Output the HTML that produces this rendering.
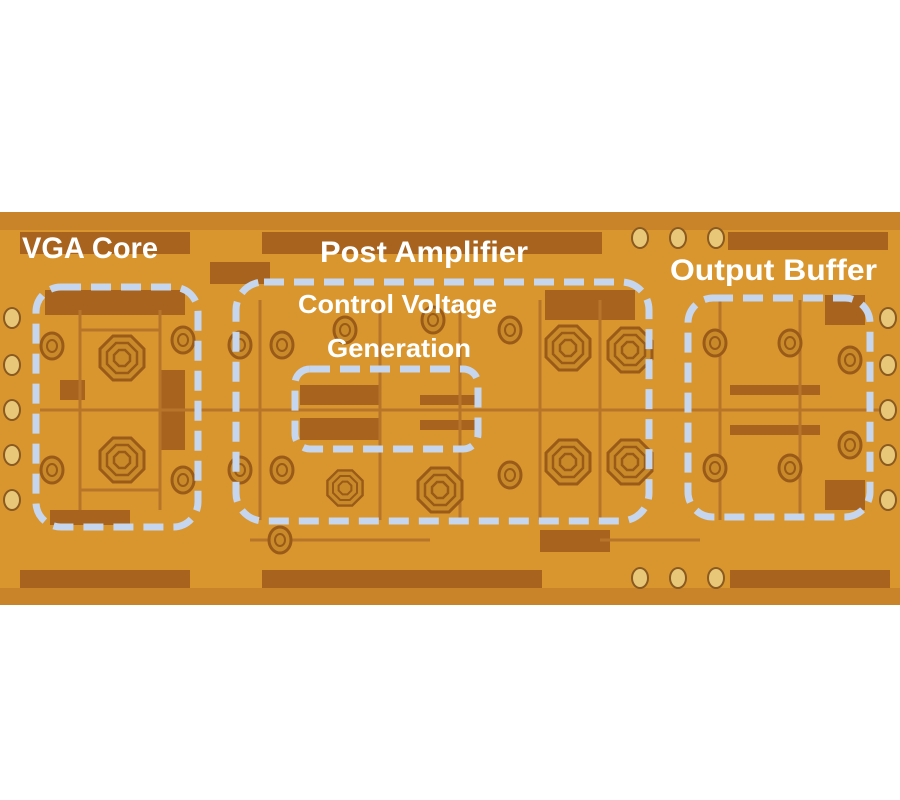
<!DOCTYPE html>
<html><head><style>body{margin:0;background:#fff}svg{display:block}</style></head>
<body>
<svg width="900" height="800" viewBox="0 0 900 800" xmlns="http://www.w3.org/2000/svg">
<defs>
<g id="ind">
<polygon points="-9,-22 9,-22 22,-9 22,9 9,22 -9,22 -22,9 -22,-9" fill="#c98a2a" stroke="#9a5a18" stroke-width="3"/>
<polygon points="-6,-15 6,-15 15,-6 15,6 6,15 -6,15 -15,6 -15,-6" fill="none" stroke="#9a5a18" stroke-width="2.5"/>
<polygon points="-3,-8 3,-8 8,-3 8,3 3,8 -3,8 -8,3 -8,-3" fill="none" stroke="#9a5a18" stroke-width="2.5"/>
</g>
<g id="sm">
<ellipse cx="0" cy="0" rx="11" ry="13" fill="#c98a2a" stroke="#9a5a18" stroke-width="3"/>
<ellipse cx="0" cy="0" rx="5" ry="6" fill="none" stroke="#9a5a18" stroke-width="2"/>
</g>
<g id="pad"><ellipse cx="0" cy="0" rx="8" ry="10" fill="#e8c878" stroke="#8a5a20" stroke-width="2"/></g>
</defs>
<rect x="0" y="212" width="900" height="393" fill="#d9962e"/>
<rect x="0" y="212" width="900" height="18" fill="#c9842a"/>
<rect x="0" y="588" width="900" height="17" fill="#c9842a"/>
<!-- dark bars -->
<g fill="#a8641e">
<rect x="20" y="232" width="170" height="22"/>
<rect x="262" y="232" width="340" height="22"/>
<rect x="728" y="232" width="160" height="18"/>
<rect x="45" y="290" width="140" height="25"/>
<rect x="545" y="290" width="90" height="30"/>
<rect x="210" y="262" width="60" height="22"/>
<rect x="300" y="385" width="80" height="20"/>
<rect x="300" y="418" width="80" height="22"/>
<rect x="420" y="395" width="60" height="10"/>
<rect x="420" y="420" width="55" height="10"/>
<rect x="730" y="385" width="90" height="10"/>
<rect x="730" y="425" width="90" height="10"/>
<rect x="160" y="370" width="25" height="80"/>
<rect x="60" y="380" width="25" height="20"/>
<rect x="825" y="295" width="40" height="30"/>
<rect x="825" y="480" width="40" height="30"/>
<rect x="50" y="510" width="80" height="15"/>
<rect x="540" y="530" width="70" height="22"/>
<rect x="20" y="570" width="170" height="18"/>
<rect x="262" y="570" width="280" height="18"/>
<rect x="730" y="570" width="160" height="18"/>
</g>
<g fill="none" stroke="#b8752a" stroke-width="3">
<path d="M80 310 V510 M160 310 V510 M260 300 V520 M380 300 V520 M460 300 V520 M540 300 V520 M600 300 V520 M720 300 V520 M800 300 V520"/>
<path d="M40 410 H880 M80 330 H160 M80 490 H160 M600 540 H700 M250 540 H430"/>
</g>
<!-- inductors -->
<use href="#ind" x="122" y="358"/><use href="#ind" x="122" y="460"/>
<use href="#ind" x="345" y="488" transform="translate(345,488) scale(0.8) translate(-345,-488)"/>
<use href="#ind" x="440" y="490"/>
<use href="#ind" x="568" y="348"/><use href="#ind" x="568" y="462"/>
<use href="#ind" x="630" y="350"/><use href="#ind" x="630" y="462"/>
<use href="#sm" x="52" y="346"/><use href="#sm" x="52" y="470"/>
<use href="#sm" x="183" y="340"/><use href="#sm" x="183" y="480"/>
<use href="#sm" x="240" y="345"/><use href="#sm" x="240" y="470"/>
<use href="#sm" x="282" y="345"/><use href="#sm" x="282" y="470"/>
<use href="#sm" x="345" y="330"/>
<use href="#sm" x="433" y="320"/><use href="#sm" x="510" y="330"/>
<use href="#sm" x="510" y="475"/>
<use href="#sm" x="715" y="343"/><use href="#sm" x="790" y="343"/>
<use href="#sm" x="715" y="468"/><use href="#sm" x="790" y="468"/>
<use href="#sm" x="850" y="360"/><use href="#sm" x="850" y="445"/>
<use href="#sm" x="280" y="540"/>
<!-- pads -->
<use href="#pad" x="12" y="318"/><use href="#pad" x="12" y="365"/><use href="#pad" x="12" y="410"/><use href="#pad" x="12" y="455"/><use href="#pad" x="12" y="500"/>
<use href="#pad" x="888" y="318"/><use href="#pad" x="888" y="365"/><use href="#pad" x="888" y="410"/><use href="#pad" x="888" y="455"/><use href="#pad" x="888" y="500"/>
<use href="#pad" x="640" y="238"/><use href="#pad" x="678" y="238"/><use href="#pad" x="716" y="238"/>
<use href="#pad" x="640" y="578"/><use href="#pad" x="678" y="578"/><use href="#pad" x="716" y="578"/>
<!-- dashed boxes -->
<g fill="none" stroke="#c5d6ee" stroke-width="7" stroke-dasharray="20 10">
<rect x="36" y="287" width="162" height="240" rx="25"/>
<rect x="236" y="282" width="413" height="239" rx="28"/>
<rect x="295" y="369" width="183" height="80" rx="15"/>
<rect x="688" y="298" width="182" height="219" rx="25"/>
</g>
<g fill="#fff" font-family="Liberation Sans, sans-serif" font-weight="bold">
<text x="22" y="258" font-size="30" textLength="136" lengthAdjust="spacingAndGlyphs">VGA Core</text>
<text x="320" y="262" font-size="30" textLength="208" lengthAdjust="spacingAndGlyphs">Post Amplifier</text>
<text x="298" y="313" font-size="26" textLength="199" lengthAdjust="spacingAndGlyphs">Control Voltage</text>
<text x="327" y="357" font-size="26" textLength="144" lengthAdjust="spacingAndGlyphs">Generation</text>
<text x="670" y="280" font-size="30" textLength="207" lengthAdjust="spacingAndGlyphs">Output Buffer</text>
</g>
</svg>
</body></html>
